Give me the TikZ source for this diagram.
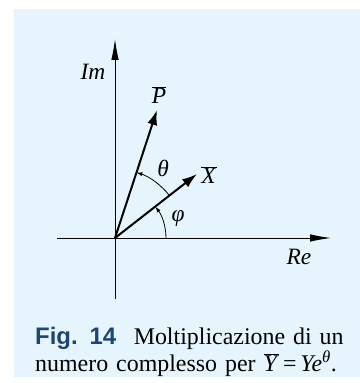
\documentclass[tikz,border=0pt]{standalone}
\usepackage{fontspec}
\setmainfont{Liberation Serif}
\newfontfamily\figsans{Liberation Sans}
\usetikzlibrary{arrows.meta}
\definecolor{bgblue}{RGB}{230,245,253}
\definecolor{figblue}{RGB}{28,68,118}

\begin{document}
\begin{tikzpicture}[x=1bp, y=1bp, font=\fontsize{23.5}{26}\selectfont,
  axis/.style={line width=0.9bp, -{Latex[length=21bp, width=7.5bp]}},
  vec/.style={line width=2bp, -{Latex[length=15bp, width=10bp]}},
  angarc/.style={line width=0.8bp, -{Latex[length=6bp, width=4bp]}}]
\useasboundingbox (0,0) rectangle (360,383);
\fill[bgblue] (14,6) rectangle (360,374);
\coordinate (O) at (115,145);
\coordinate (ImS) at (115,84);
\coordinate (ImE) at (115,344);
\coordinate (ReS) at (57,145);
\coordinate (ReE) at (331,145);
\coordinate (P) at (157,273);
\coordinate (X) at (197,209);
\draw[axis] (ImS) -- (ImE);
\draw[axis] (ReS) -- (ReE);
\draw[vec] (O) -- (P);
\draw[vec] (O) -- (X);
\draw[angarc] ([shift={(0:51)}]O) arc (0:38:51);
\draw[angarc] ([shift={(38:69)}]O) arc (38:72:69);
\node (im) at (93,311) {\textit{Im}};
\node (re) at (299,126) {\textit{Re}};
\node (pbar) at (159,288) {$\overline{\mbox{\textit{P}}}$};
\node (xbar) at (209,208) {$\overline{\mbox{\textit{X}}}$};
\node (theta) at (163,215) {\textit{θ}};
\node (phi) at (178,165) {\textit{φ}};
\node[anchor=base west, inner sep=0, text width=316bp,
  font=\fontsize{24}{27.5}\selectfont] (caption) at (35,39)
  {\hbox to 316bp{{\figsans\bfseries\color{figblue}Fig. 14}\hspace{0.4em} Moltiplicazione di un}\\
   \hbox to 316bp{numero complesso per $\overline{\mbox{\textit{Y}}}$\,=\,\textit{Ye}\textsuperscript{\textit{θ}}.}};
\end{tikzpicture}
\end{document}
